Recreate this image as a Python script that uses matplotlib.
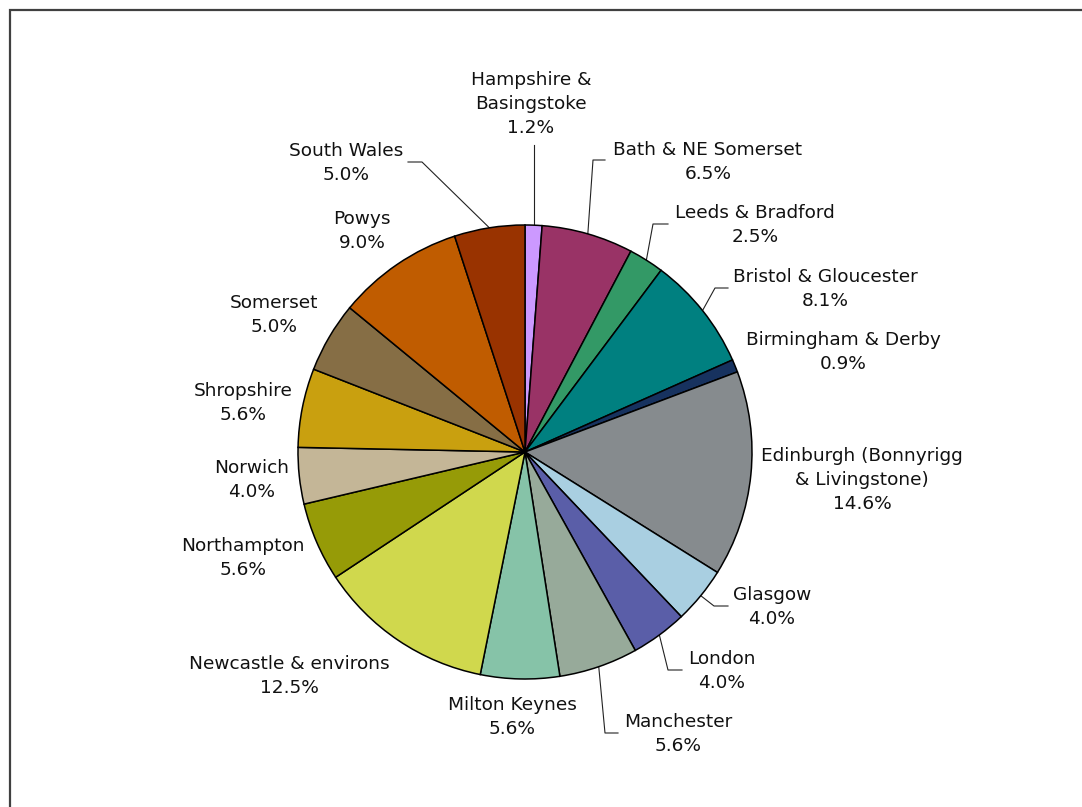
import matplotlib
matplotlib.use("Agg")
import matplotlib.pyplot as plt
import numpy as np

# share of sites by region, clockwise from 12 o'clock
regions = ["Hampshire &\nBasingstoke", "Bath & NE Somerset", "Leeds & Bradford",
           "Bristol & Gloucester", "Birmingham & Derby",
           "Edinburgh (Bonnyrigg\n& Livingstone)", "Glasgow", "London", "Manchester",
           "Milton Keynes", "Newcastle & environs", "Northampton", "Norwich",
           "Shropshire", "Somerset", "Powys", "South Wales"]
shares = [1.2, 6.5, 2.5, 8.1, 0.9, 14.6, 4.0, 4.0, 5.6, 5.6, 12.5, 5.6, 4.0,
          5.6, 5.0, 9.0, 5.0]
colors = ["#CC99FF", "#993366", "#339966", "#008080", "#17325F", "#868B8E",
          "#A9CFE1", "#5A5EA8", "#97AA9A", "#86C3A8", "#D0D84D", "#969B07",
          "#C4B697", "#C9A00F", "#866E45", "#C05C00", "#993300"]

W, H = 1082, 807
CX, CY, R = 525, 452, 227   # pie centre / radius in pixels (y from top)

# label centres in pixels (y from top); leader = (elbow, end) or None
label_pos = [(531, 104), (708, 162), (755, 225), (825, 289), (843, 352),
             (862, 480), (772, 607), (722, 671), (678, 734), (512, 717),
             (289, 676), (243, 558), (252, 480), (243, 403), (274, 315),
             (362, 231), (346, 163)]
leaders = [((530, 145), (530, 145)), ((593, 160), (605, 160)),
           ((653, 224), (668, 224)), ((715, 288), (728, 288)), None, None,
           ((714, 606), (728, 606)), ((668, 670), (682, 670)),
           ((605, 733), (618, 733)), None, None, None, None, None, None, None,
           ((422, 162), (408, 162))]


def px(x, y):
    return x, H - y


fig = plt.figure(figsize=(W / 100, H / 100), dpi=100)
ax = fig.add_axes([0, 0, 1, 1])

wedges, _ = ax.pie(shares, colors=colors, startangle=90, counterclock=False,
                   center=px(CX, CY), radius=R,
                   wedgeprops=dict(edgecolor="black", linewidth=1.1))
ax.set_xlim(0, W)
ax.set_ylim(0, H)
ax.set_aspect("auto")
ax.axis("off")

for w, name, pct, pos, ld in zip(wedges, regions, shares, label_pos, leaders):
    tx, ty = px(*pos)
    ax.text(tx, ty, f"{name}\n{pct:.1f}%", ha="center", va="center",
            fontsize=13.3, linespacing=1.42, color="#111111",
            family="DejaVu Sans")
    if ld is None:
        continue
    mid = np.deg2rad((w.theta1 + w.theta2) / 2)
    ex, ey = CX + R * np.cos(mid), CY - R * np.sin(mid)
    (bx, by), (fx, fy) = ld
    if ld[0] == ld[1]:
        bx = fx = ex
    xs, ys = zip(px(ex, ey), px(bx, by), px(fx, fy))
    ax.plot(xs, ys, color="#222222", linewidth=0.8, zorder=0)

# chart-area frame (left and top edges visible)
ax.plot([10, 10, W + 5], [-5, H - 10, H - 10], color="#404040",
        linewidth=1.6, solid_joinstyle="miter", clip_on=False)

fig.savefig("out.png", dpi=100)
